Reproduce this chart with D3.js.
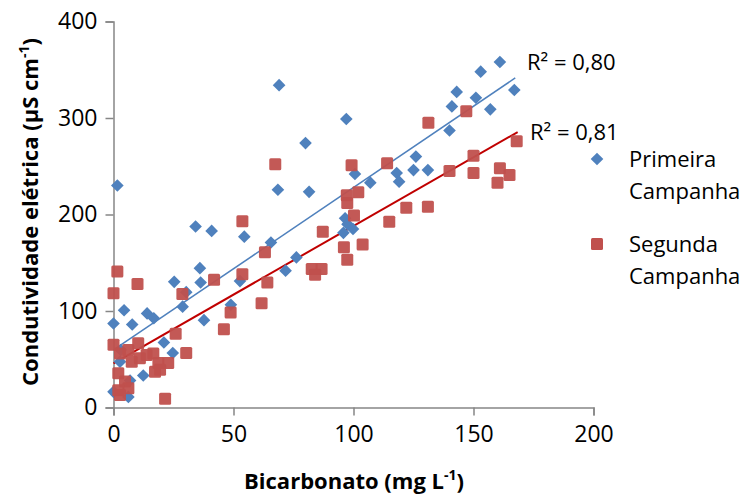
<!DOCTYPE html>
<html>
<head>
<meta charset="utf-8">
<script src="https://cdn.jsdelivr.net/npm/d3@7"></script>
<style>
  body { margin: 0; background: #fff; }
  svg text { font-family: "Open Sans", "Noto Sans", sans-serif; fill: #000; }
</style>
</head>
<body>
<div id="chart"></div>
<script>
// Condutividade elétrica x Bicarbonato – duas campanhas

// [bicarbonato, condutividade]
const PRIMEIRA = [
  [1.6,230],[69,334],[97,299],[80,274],[68.5,225.6],[81.5,223.5],[100.6,242],
  [161,358],[153,348],[167,329],[143,327],[151,321],[141,312],[157,309],[140,287],
  [126,260],[125,246],[131,246],[118,243],[119,234],[107,233],
  [34.2,187.6],[40.9,183],[54.5,177],[65.6,171],[96.5,196],[97.5,190],[95.8,181],[99.8,185],
  [76.2,155.5],[71.7,141.8],[52.7,131],[36,144.4],[36.3,129.5],[25.3,130.2],[30.3,119.5],
  [28.8,104.5],[37.7,90.5],[48.9,106.5],[14,97.5],[16.8,92.5],[4.4,100.8],[0,87],[7.8,86],
  [21,67.4],[24.7,56.5],[12.4,33.2],[0,16.2],[6.2,11],[2.7,47.5],[3,59.6],[6.9,28]
];
const SEGUNDA = [
  [131.2,295],[147,307],[168,276],[150,261],[161,248],[165,241],[160,233],[150,243],[140,245],
  [114,253],[99.2,251],[97.2,220],[102,223],[122,207],[131,208],[97.4,212],[100.2,199],
  [114.9,192.5],[103.8,169],[96,166],[97.4,153],
  [67.4,252],[53.7,193],[87.2,182],[63.1,161],[82.6,143.5],[86.7,143.5],[84,137.5],
  [41.9,132.3],[53.7,138.2],[64.1,129.5],[61.7,108],[48.8,98.5],[46,81],
  [1.6,141],[10,128],[0,118.5],[28.7,117.5],[25.9,76.5],[30.3,56.5],[0,65],[2.7,56],
  [6.2,59.6],[10.3,66.6],[13.8,54.5],[16.6,56],[7.6,47.5],[11,51],[18.7,46],[22.8,46],
  [17.3,37],[19.4,39],[2,35.5],[4.8,27],[6.2,20],[2,18],[2.7,13],[21.5,9]
];

// linhas de tendência: [intercepto, inclinação, x final], R²
const TREND_PRIMEIRA = [59.6, 1.684, 167.4];
const TREND_SEGUNDA  = [45.8, 1.423, 168.4];
const R2_LABELS = ["R² = 0,80", "R² = 0,81"];

const X_TICKS = [0, 50, 100, 150, 200];
const Y_TICKS = [0, 100, 200, 300, 400];
const SERIES_NAMES = [["Primeira", "Campanha"], ["Segunda", "Campanha"]];

const BLUE = "#4f81bd", RED = "#c0504d", RED_LINE = "#c00000", AXIS = "#868686";

const totalW = 746, totalH = 495;
const svg = d3.select("#chart").append("svg")
  .attr("width", totalW).attr("height", totalH);

/* ── Scales ── */
const x = d3.scaleLinear().domain([0, 200]).range([113.5, 593.5]);
const y = d3.scaleLinear().domain([0, 400]).range([407.5, 21.5]);

/* ── Axes ── */
const styleAxis = ax => {
  ax.select(".domain").attr("stroke", AXIS).attr("stroke-width", 1.5);
  ax.selectAll(".tick line").attr("stroke", AXIS).attr("stroke-width", 1.5);
  ax.selectAll("text").attr("font-size", 23).attr("fill", "#000")
    .attr("font-family", "'Open Sans', sans-serif");
};

svg.append("g").attr("transform", `translate(0,${y(0)})`)
  .call(d3.axisBottom(x).tickValues(X_TICKS).tickSize(8).tickSizeOuter(8).tickPadding(10).tickFormat(d3.format("d")))
  .call(styleAxis);

svg.append("g").attr("transform", `translate(${x(0)},0)`)
  .call(d3.axisLeft(y).tickValues(Y_TICKS).tickSize(8).tickSizeOuter(8).tickPadding(8).tickFormat(d3.format("d")))
  .call(styleAxis);

/* ── Axis titles ── */
const xt = svg.append("text").attr("x", 354).attr("y", 489)
  .attr("text-anchor", "middle").attr("font-size", 22).attr("font-weight", "bold");
xt.append("tspan").text("Bicarbonato (mg L");
xt.append("tspan").attr("font-size", 14).attr("dy", -9).text("-1");
xt.append("tspan").attr("dy", 9).text(")");

const yt = svg.append("text").attr("transform", "translate(38,212) rotate(-90)")
  .attr("text-anchor", "middle").attr("font-size", 22).attr("font-weight", "bold");
yt.append("tspan").text("Condutividade elétrica (µS cm");
yt.append("tspan").attr("font-size", 14).attr("dy", -9).text("-1");
yt.append("tspan").attr("dy", 9).text(")");

/* ── Trend lines ── */
const line = d3.line().x(d => x(d[0])).y(d => y(d[1]));
[[TREND_PRIMEIRA, BLUE, 1.5], [TREND_SEGUNDA, RED_LINE, 2]].forEach(([t, c, w]) => {
  svg.append("path")
    .datum([[0, t[0]], [t[2], t[0] + t[1] * t[2]]])
    .attr("d", line).attr("fill", "none").attr("stroke", c).attr("stroke-width", w);
});

/* ── Points ── */
const diamond = d3.symbol().type(d3.symbolSquare).size(80);

svg.append("g").selectAll("path").data(PRIMEIRA).join("path")
  .attr("d", diamond)
  .attr("transform", d => `translate(${x(d[0])},${y(d[1])}) rotate(45)`)
  .attr("fill", BLUE);

svg.append("g").selectAll("rect").data(SEGUNDA).join("rect")
  .attr("x", d => x(d[0]) - 6).attr("y", d => y(d[1]) - 6)
  .attr("width", 12).attr("height", 12).attr("rx", 1.5)
  .attr("fill", RED).attr("fill-opacity", 0.95);

/* ── R² labels ── */
svg.append("text").attr("x", 527).attr("y", 70).attr("font-size", 22).text(R2_LABELS[0]);
svg.append("text").attr("x", 530).attr("y", 140).attr("font-size", 22).text(R2_LABELS[1]);

/* ── Legend ── */
const lg = svg.append("g");
lg.append("path").attr("d", diamond).attr("transform", "translate(597,159) rotate(45)").attr("fill", BLUE);
lg.append("rect").attr("x", 591).attr("y", 238).attr("width", 12).attr("height", 12).attr("rx", 1.5).attr("fill", RED);
SERIES_NAMES.forEach((name, i) => {
  const t = lg.append("text").attr("x", 629).attr("y", 167 + i * 85).attr("font-size", 22);
  t.append("tspan").text(name[0]);
  t.append("tspan").attr("x", 629).attr("dy", 32).text(name[1]);
});
</script>
</body>
</html>
